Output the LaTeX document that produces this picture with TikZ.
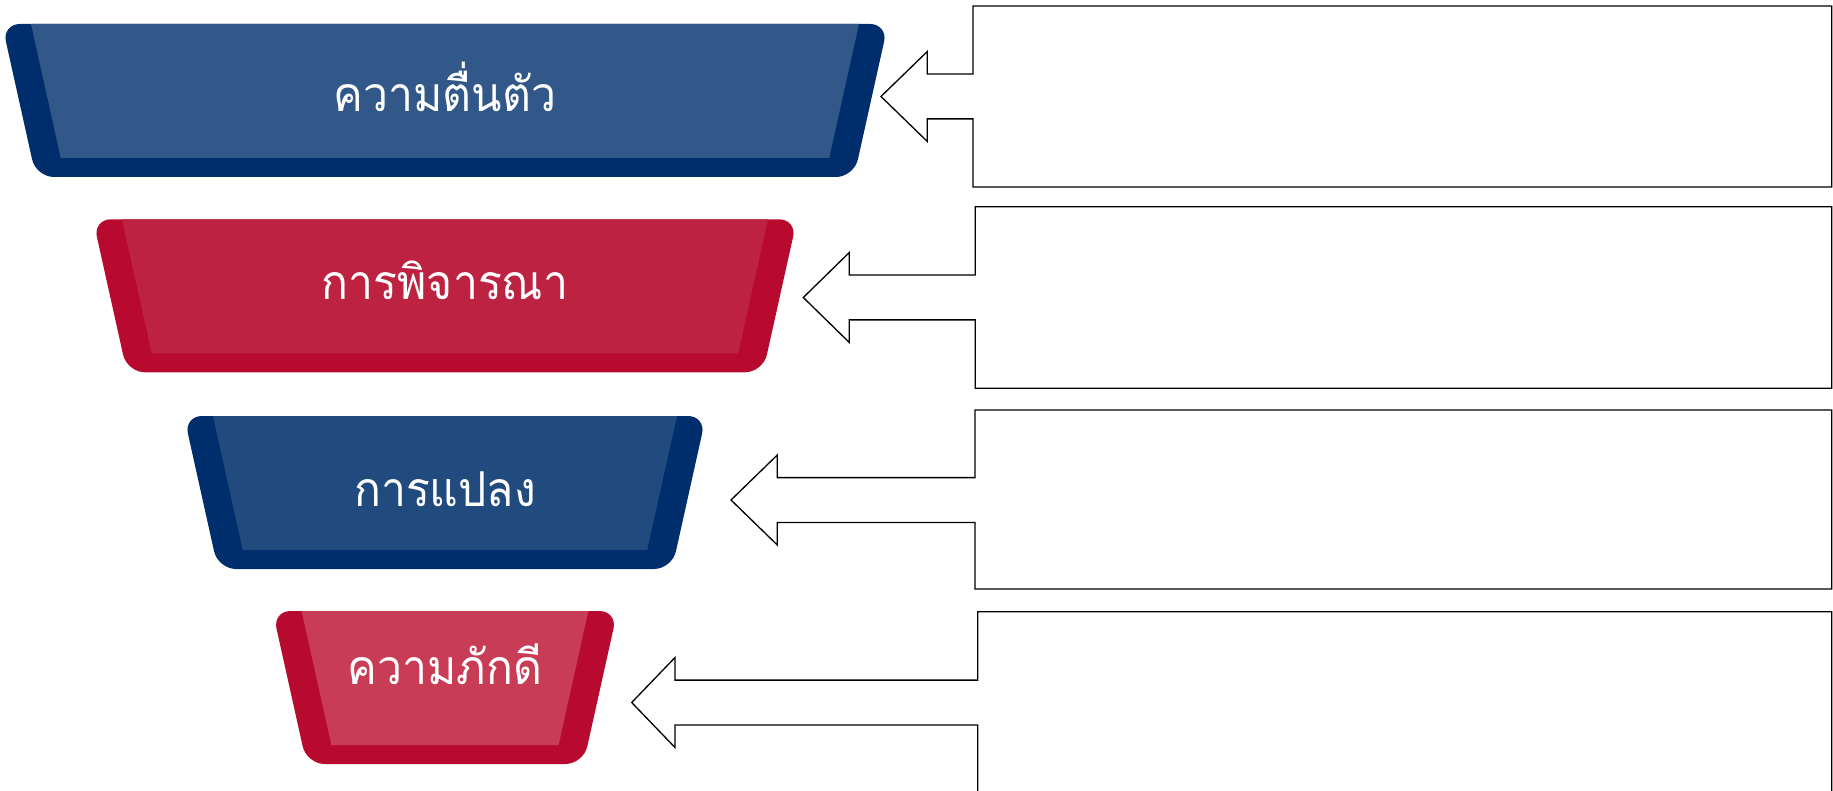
\documentclass[tikz,border=0pt]{standalone}
\usepackage{fontspec}
\usepackage{graphicx}
\newfontfamily\thaifont[Script=Thai]{Loma}
\definecolor{navyout}{HTML}{002D6B}
\definecolor{navyinA}{HTML}{325889}
\definecolor{navyinB}{HTML}{214A7F}
\definecolor{redout}{HTML}{B80A2E}
\definecolor{redinA}{HTML}{BD2240}
\definecolor{redinB}{HTML}{C83C55}
\tikzset{
  tierlabel/.style={text=white, font=\thaifont\fontsize{44.5}{52}\selectfont, anchor=base, inner sep=0pt},
  callout/.style={draw=black, line width=1.3pt, fill=white, line join=miter},
}
% #1 name, #2 top y, #3 top half-width, #4 outer colour, #5 inner colour, #6 baseline y, #7 text
\newcommand{\tier}[7]{%
  \fill[#4, rounded corners=18] ({445-#3},#2) -- ({445+#3},#2) -- ({445+#3-34},{#2+153}) -- ({445-#3+34},{#2+153}) -- cycle;
  \fill[#5] ({445-#3+29},#2) -- ({445+#3-29},#2) -- ({445+#3-58.8},{#2+134}) -- ({445-#3+58.8},{#2+134}) -- cycle;
  \node[tierlabel] (#1) at (445,#6) {\scalebox{1}[1.08]{#7}};
}
% #1 left, #2 top, #3 bottom, #4 centre y, #5 head base x, #6 tip x
\newcommand{\calloutbox}[6]{%
  \draw[callout] (#1,#2) -- (1831.7,#2) -- (1831.7,#3) -- (#1,#3) -- (#1,{#4+22.4}) -- (#5,{#4+22.4}) -- (#5,{#4+45}) -- (#6,#4) -- (#5,{#4-45}) -- (#5,{#4-22.4}) -- (#1,{#4-22.4}) -- cycle;
}
\begin{document}
\begin{tikzpicture}[x=1pt, y=-1pt]
  \useasboundingbox (0,0) rectangle (1833,791);
  \clip (0,0) rectangle (1833,791);
  \tier{t1}{24}{443}{navyout}{navyinA}{112}{ความตื่นตัว}
  \tier{t2}{219.3}{352}{redout}{redinA}{300}{การพิจารณา}
  \tier{t3}{416}{261}{navyout}{navyinB}{506}{การแปลง}
  \tier{t4}{611}{172.4}{redout}{redinB}{684}{ความภักดี}
  \calloutbox{973}{6}{187}{96.5}{927.3}{881}
  \calloutbox{975.3}{206.7}{388.3}{297.5}{849.3}{803.3}
  \calloutbox{975}{410}{589}{500}{777.3}{731}
  \calloutbox{977.7}{611.7}{800}{702.5}{675}{631.7}
\end{tikzpicture}
\end{document}
